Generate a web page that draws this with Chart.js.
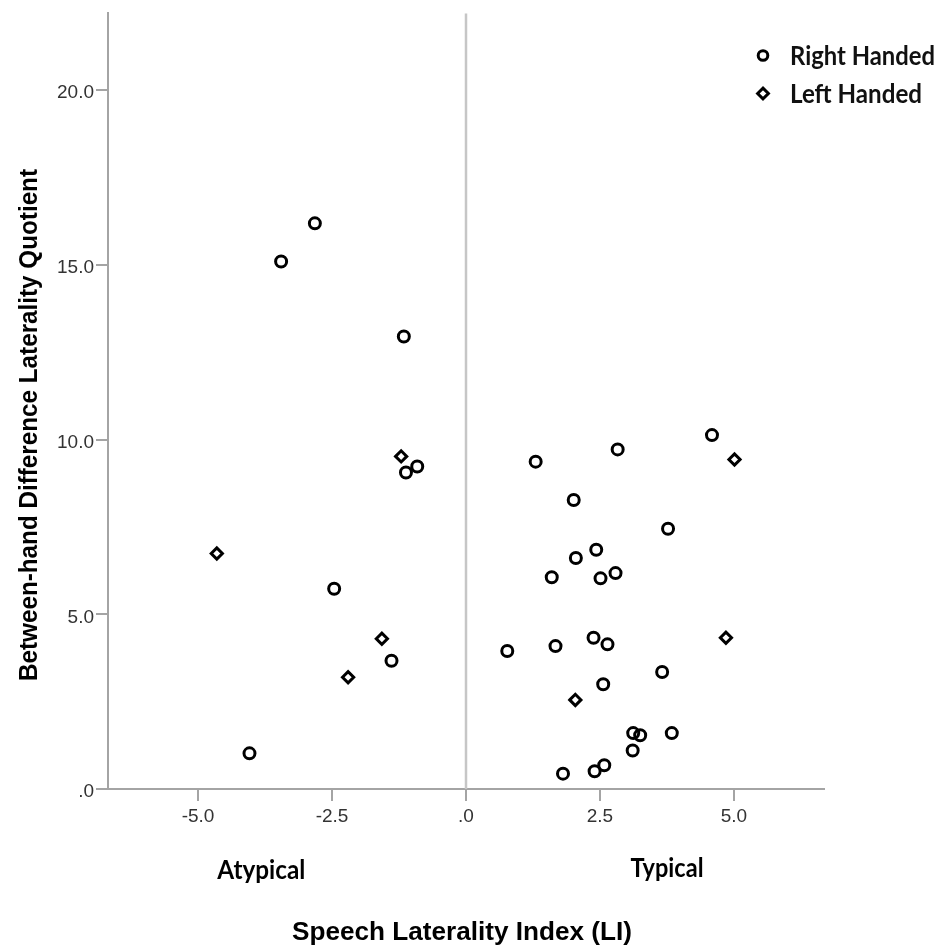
<!DOCTYPE html>
<html>
<head>
<meta charset="utf-8">
<script src="https://cdn.jsdelivr.net/npm/chart.js@4.4.1/dist/chart.umd.min.js"></script>
<style>
  html, body { margin: 0; padding: 0; background: #fff; }
  canvas { display: block; }
</style>
</head>
<body>
<canvas id="myChart" width="945" height="951"></canvas>
<script>
// values
const rightX = [-2.82, -3.45, -1.16, -0.91, -1.12, -2.46, -1.39, -4.04,
  4.59, 2.83, 1.30, 2.01, 3.77, 2.43, 2.05, 1.60, 2.51, 2.79, 0.77, 1.67,
  2.38, 2.64, 3.66, 2.56, 3.12, 3.25, 3.84, 3.11, 2.58, 2.40, 1.81];
const rightY = [16.19, 15.10, 12.95, 9.23, 9.06, 5.73, 3.67, 1.02,
  10.13, 9.72, 9.37, 8.27, 7.45, 6.85, 6.61, 6.06, 6.03, 6.18, 3.95, 4.09,
  4.33, 4.14, 3.35, 3.00, 1.60, 1.54, 1.60, 1.10, 0.68, 0.51, 0.44];
const leftX = [-1.21, -4.65, -1.57, -2.20, 5.01, 4.85, 2.04];
const leftY = [9.52, 6.74, 4.30, 3.20, 9.43, 4.33, 2.55];

const xTicks = [-5, -2.5, 0, 2.5, 5];
const yTicks = [0, 5, 10, 15, 20];
const seriesNames = ['Right Handed', 'Left Handed'];
const xTitle = 'Speech Laterality Index (LI)';
const yTitle = 'Between-hand Difference Laterality Quotient';
const sideLabels = ['Atypical', 'Typical'];

const axisGray = '#a4a4a4';

// SPSS style labels: ".0", "5.0", "-2.5"
function fmt(v) {
  return v.toFixed(1).replace(/^(-?)0\./, '$1.');
}

function toPoints(xs, ys) {
  return xs.map((x, i) => ({ x: x, y: ys[i] }));
}

// draw text squeezed / stretched to a given width
function fitText(ctx, text, x, y, font, width, angle) {
  ctx.save();
  ctx.font = font;
  const w = ctx.measureText(text).width;
  ctx.translate(x, y);
  if (angle) ctx.rotate(angle);
  ctx.scale(width / w, 1);
  ctx.fillText(text, 0, 0);
  ctx.restore();
}

const extras = {
  id: 'extras',
  beforeDatasetsDraw(chart) {
    const { ctx, chartArea, scales } = chart;
    const x0 = scales.x.getPixelForValue(0);
    ctx.save();
    ctx.strokeStyle = '#c6c6c6';
    ctx.lineWidth = 2.5;
    ctx.beginPath();
    ctx.moveTo(x0, chartArea.top);
    ctx.lineTo(x0, chartArea.bottom);
    ctx.stroke();
    ctx.restore();
  },
  afterDraw(chart) {
    const { ctx, chartArea, scales } = chart;
    ctx.save();
    ctx.fillStyle = '#000';
    ctx.textBaseline = 'alphabetic';

    // axis titles
    ctx.textAlign = 'center';
    fitText(ctx, xTitle, 462, 940, 'bold 25px "Liberation Sans", Arial', 340);
    fitText(ctx, yTitle, 37, 425, 'bold 25px "Liberation Sans", Arial', 512, -Math.PI / 2);

    // Atypical / Typical
    fitText(ctx, sideLabels[0], scales.x.getPixelForValue(-3.82), 879, 'bold 26px Lato', 88);
    fitText(ctx, sideLabels[1], scales.x.getPixelForValue(3.75), 877, 'bold 26px Lato', 73);

    // legend
    const styles = ['circle', 'rectRot'];
    const widths = [145, 132];
    const lx = chartArea.right - 61;
    for (let i = 0; i < 2; i++) {
      const cy = 55.5 + i * 38;
      ctx.strokeStyle = '#000';
      ctx.fillStyle = '#fff';
      ctx.lineWidth = 3;
      Chart.helpers.drawPoint(ctx, {
        pointStyle: styles[i], rotation: 0,
        radius: i === 0 ? 4.8 : 5.4, borderWidth: 3
      }, lx, cy);
      ctx.fillStyle = '#111';
      ctx.textAlign = 'left';
      fitText(ctx, seriesNames[i], lx + 27, cy + 9.5, 'bold 26px Lato', widths[i]);
    }
    ctx.restore();
  }
};

new Chart(document.getElementById('myChart'), {
  type: 'scatter',
  data: {
    datasets: [
      {
        label: seriesNames[0],
        data: toPoints(rightX, rightY),
        pointStyle: 'circle',
        pointRadius: 5.5,
        borderWidth: 3,
        borderColor: '#000',
        backgroundColor: 'rgba(0,0,0,0)'
      },
      {
        label: seriesNames[1],
        data: toPoints(leftX, leftY),
        pointStyle: 'rectRot',
        pointRadius: 5.6,
        borderWidth: 3,
        borderColor: '#000',
        backgroundColor: 'rgba(0,0,0,0)'
      }
    ]
  },
  options: {
    responsive: false,
    animation: false,
    layout: { padding: { left: 0, top: 10, right: 121, bottom: 0 } },
    plugins: {
      legend: { display: false },
      tooltip: { enabled: false }
    },
    scales: {
      x: {
        type: 'linear',
        min: -6.68,
        max: 6.68,
        afterBuildTicks: (scale) => { scale.ticks = xTicks.map(v => ({ value: v })); },
        afterFit: (scale) => { scale.height = 162; },
        ticks: {
          callback: (v) => fmt(v),
          font: { family: '"Liberation Sans", Arial', size: 19 },
          color: '#333',
          padding: 4,
          maxRotation: 0
        },
        grid: { drawOnChartArea: false, tickLength: 12, color: axisGray, lineWidth: 2 },
        border: { color: axisGray, width: 2 }
      },
      y: {
        type: 'linear',
        min: 0,
        max: 22.2,
        afterBuildTicks: (scale) => { scale.ticks = yTicks.map(v => ({ value: v })); },
        afterFit: (scale) => { scale.width = 108; },
        ticks: {
          callback: (v) => fmt(v),
          font: { family: '"Liberation Sans", Arial', size: 19 },
          color: '#333',
          padding: 2,
          labelOffset: 3
        },
        grid: { drawOnChartArea: false, tickLength: 12, color: axisGray, lineWidth: 2 },
        border: { color: axisGray, width: 2 }
      }
    }
  },
  plugins: [extras]
});
</script>
</body>
</html>
